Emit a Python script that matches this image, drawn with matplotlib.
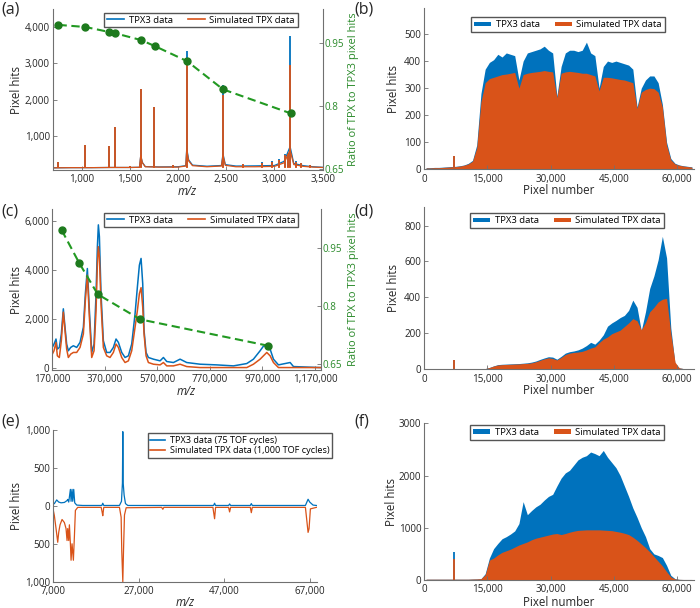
import matplotlib
matplotlib.use('Agg')
import matplotlib.pyplot as plt
from matplotlib.lines import Line2D
from matplotlib.patches import Patch
import numpy as np

plt.rcParams['font.family'] = ['Open Sans', 'DejaVu Sans']

BLUE = '#0072BD'
ORANGE = '#D95319'
GREEN_T = '#2a8a2a'
GREEN_D = '#1d7a1d'
GREEN_L = '#229922'
SPINE = '#707070'
TXT = '#262626'

# ---------------- (a) data ----------------
a_base_mz = [700, 900, 1100, 1300, 1500, 1600, 1613, 1630, 1660, 1800, 2000, 2080, 2090, 2110, 2150,
             2300, 2450, 2466, 2490, 2600, 2800, 3000, 3100, 3162, 3200, 3300, 3400, 3500]
a_base_orange = [110, 115, 115, 120, 120, 125, 450, 250, 140, 130, 130, 160, 600, 300, 170,
                 140, 160, 450, 180, 140, 140, 150, 250, 600, 200, 150, 130, 120]
a_base_blue = [110, 115, 115, 120, 120, 125, 450, 260, 145, 135, 140, 170, 650, 330, 185,
               155, 175, 500, 200, 160, 165, 175, 290, 700, 230, 170, 140, 125]
a_peak_mz = [750, 1039, 1289, 1341, 1500, 1613, 1752, 1950, 2090, 2466, 2674, 2873, 2978,
             3047, 3110, 3135, 3162, 3221, 3273, 3370]
a_peak_orange = [280, 740, 720, 1250, 170, 2280, 1800, 180, 3100, 2130, 210, 250, 270,
                 330, 470, 490, 2960, 270, 230, 180]
a_peak_blue = [280, 740, 720, 1250, 170, 2280, 1800, 190, 3350, 2400, 220, 260, 290,
               350, 500, 530, 3760, 290, 250, 200]
a_ratio_mz = [760, 1039, 1289, 1350, 1616, 1756, 2093, 2466, 3169]
a_ratio = [0.992, 0.987, 0.975, 0.972, 0.956, 0.942, 0.906, 0.839, 0.782]

# ---------------- (c) data ----------------
c_mz = [170000, 176500, 184100, 189200, 196800, 204400, 212000, 218400, 224700, 231100, 240000,
        250200, 262900, 275600, 288300, 295900, 303500, 311200, 320100, 329000, 336600, 341700,
        345400, 349300, 355500, 364400, 377100, 389800, 402500, 412700, 421600, 434300, 447000,
        459700, 472400, 485100, 494000, 501600, 508000, 514300, 519400, 527000, 535900, 555000,
        580400, 593100, 605800, 631200, 656500, 681900, 732700, 796200, 859700, 910500, 935900,
        961300, 974000, 986700, 999400, 1012100, 1031200, 1075600, 1088300, 1190000]
c_blue = [827, 965, 1172, 758, 827, 1379, 2413, 1655, 965, 690, 827,
          896, 827, 1034, 1655, 3034, 4068, 2344, 621, 965, 3034, 4964,
          5861, 5378, 3034, 1103, 621, 621, 827, 1172, 1034, 621, 414,
          483, 965, 2206, 3310, 4206, 4482, 3448, 1517, 621, 414, 345,
          276, 414, 248, 207, 345, 207, 138, 110, 69, 165, 345,
          690, 880, 900, 758, 345, 110, 207, 41, 0]
c_orange = [552, 690, 1034, 483, 414, 1103, 2275, 1517, 758, 414, 552,
            621, 621, 827, 1379, 2758, 3792, 2069, 414, 690, 2344, 4275,
            4964, 4551, 2620, 827, 483, 414, 621, 965, 827, 414, 207,
            276, 690, 1655, 2344, 3034, 3282, 2482, 1379, 483, 207, 138,
            110, 207, 69, 69, 138, 41, 0, 0, 0, 0, 138,
            345, 483, 620, 483, 207, 0, 0, 0, 0]
c_ratio_mz = [205800, 271700, 343000, 505000, 990600]
c_ratio = [0.997, 0.913, 0.831, 0.766, 0.698]

# ---------------- (e) data ----------------
e_blue_mz = [7000, 7390, 7930, 8400, 8945, 9720, 10345, 10500, 10735, 11125,
             11280, 11510, 11670, 11900, 12135, 12600, 14000, 18450, 18670, 18900,
             22560, 23030, 23250, 23340, 23430, 23650, 23960, 24500, 31900, 44500,
             44730, 44950, 48000, 48230, 48460, 53060, 53290, 53520, 65900, 66520,
             66900, 67680, 68460]
e_blue = [20, 30, 78, 50, 40, 45, 70, 85, 50, 217,
          60, 217, 60, 217, 40, 10, 5, 5, 35, 5,
          5, 60, 300, 978, 300, 140, 30, 5, 5, 5,
          35, 5, 5, 25, 5, 5, 30, 5, 5, 87,
          50, 10, 5]
e_orange_mz = [7000, 7390, 7780, 8170, 8400, 8710, 9180, 9720, 10110, 10345,
               10500, 10735, 10890, 11125, 11280, 11510, 11820, 12060, 12290, 12835,
               18300, 18515, 18670, 18900, 22560, 22950, 23100, 23340, 23500, 23730,
               24120, 32400, 32670, 32900, 44340, 44730, 44960, 48000, 48230, 48460,
               53060, 53290, 53520, 65900, 66520, 66750, 67060, 68460]
e_orange = [20, 130, 300, 480, 350, 250, 180, 220, 300, 457,
            300, 457, 250, 500, 717, 500, 717, 400, 60, 20,
            20, 80, 130, 20, 20, 150, 600, 1000, 600, 120,
            25, 20, 45, 20, 20, 170, 20, 20, 80, 20,
            20, 90, 20, 20, 350, 300, 40, 20]

# ---------------- histogram data (bins of 1000 pixels) ----------------
pix_edges = list(range(0, 65000, 1000))

b_blue = [6, 6, 7, 7, 8, 9, 10, 11, 13, 16,
          22, 33, 90, 280, 370, 395, 405, 425, 415, 430,
          425, 420, 330, 400, 430, 435, 440, 445, 455, 440,
          430, 270, 380, 430, 440, 440, 435, 440, 470, 430,
          420, 300, 380, 400, 395, 400, 395, 390, 385, 370,
          230, 300, 330, 345, 345, 320, 240, 100, 40, 22,
          16, 13, 11, 9]
b_orange = [5, 5, 6, 6, 7, 8, 9, 10, 12, 15,
            20, 30, 80, 250, 320, 335, 340, 345, 350, 352,
            355, 358, 300, 350, 355, 358, 360, 362, 365, 362,
            360, 265, 355, 360, 362, 360, 358, 355, 355, 350,
            345, 290, 340, 340, 338, 335, 332, 330, 325, 320,
            225, 285, 295, 300, 298, 285, 230, 90, 35, 20,
            15, 12, 10, 8]

d_blue = [3, 3, 3, 3, 3, 3, 3, 3, 3, 3,
          3, 3, 3, 3, 4, 10, 19, 26, 28, 29,
          30, 31, 32, 34, 36, 40, 46, 55, 63, 70,
          68, 56, 72, 90, 98, 102, 108, 118, 132, 150,
          140, 162, 192, 240, 258, 272, 288, 300, 328, 385,
          345, 215, 320, 450, 520, 610, 740, 620, 230, 30,
          8, 4, 3, 3]
d_orange = [3, 3, 3, 3, 3, 3, 3, 3, 3, 3,
            3, 3, 3, 3, 4, 10, 18, 24, 26, 27,
            28, 29, 30, 32, 33, 36, 42, 50, 58, 64,
            60, 52, 66, 82, 90, 94, 96, 100, 108, 118,
            125, 148, 168, 180, 198, 208, 218, 238, 258, 282,
            270, 220, 260, 320, 345, 375, 390, 395, 200, 40,
            8, 4, 3, 3]

f_blue = [15, 15, 15, 15, 15, 15, 15, 15, 15, 15,
          15, 18, 20, 25, 120, 420, 600, 700, 790, 830,
          880, 940, 1080, 1500, 1250, 1330, 1400, 1450, 1530, 1600,
          1640, 1800, 1950, 2050, 2100, 2200, 2300, 2350, 2380, 2450,
          2420, 2380, 2480, 2350, 2250, 2150, 2000, 1800, 1600, 1380,
          1200, 1000, 830, 600, 500, 470, 430, 280, 90, 25,
          12, 10, 10, 10]
f_orange = [15, 15, 15, 15, 15, 15, 15, 15, 15, 15,
            15, 18, 20, 25, 100, 380, 420, 480, 530, 560,
            590, 630, 670, 700, 730, 770, 800, 820, 840, 860,
            880, 890, 870, 890, 915, 935, 950, 955, 960, 960,
            960, 960, 955, 950, 945, 930, 915, 895, 870, 820,
            760, 690, 620, 540, 450, 360, 270, 160, 60, 20,
            12, 10, 10, 10]

spike_pix = 7000
b_spike = [50, 50]   # blue, orange
d_spike = [50, 50]
f_spike = [540, 400]

# ---------------- figure ----------------
fig = plt.figure(figsize=(7, 6.08), dpi=100)
TICK_FS = 7.1
LAB_FS = 8.3


def px_axes(l, t, r, b):
    return fig.add_axes([l / 700, 1 - b / 608, (r - l) / 700, (b - t) / 608])


def style(ax):
    for s in ['top', 'right']:
        ax.spines[s].set_visible(False)
    for s in ['left', 'bottom']:
        ax.spines[s].set_color(SPINE)
        ax.spines[s].set_linewidth(0.8)
    ax.tick_params(direction='in', length=3, width=0.6, color=SPINE,
                   labelsize=TICK_FS, labelcolor=TXT, pad=2)
    ax.tick_params(axis='x', pad=3.2)


def legend(ax, handles, labels, x, y, ncol=2, fs=6.8, hl=1.8, hh=0.7):
    ax.legend(handles, labels, loc='upper left', bbox_to_anchor=(x / 700, 1 - y / 608),
              bbox_transform=fig.transFigure, ncol=ncol, fontsize=fs, frameon=True,
              fancybox=False, edgecolor='#555555', framealpha=1, borderpad=0.3,
              handlelength=hl, handleheight=hh, handletextpad=0.5, columnspacing=1.6,
              labelspacing=0.15, borderaxespad=0)


def right_axis(ax, ylim):
    ax2 = ax.twinx()
    for s in ['top', 'left', 'bottom']:
        ax2.spines[s].set_visible(False)
    ax2.spines['right'].set_color(SPINE)
    ax2.spines['right'].set_linewidth(0.8)
    ax2.set_ylim(*ylim)
    ax2.set_yticks([0.65, 0.8, 0.95])
    ax2.set_yticklabels(['0.65', '0.8', '0.95'])
    ax2.tick_params(direction='in', length=3, width=0.6, color=SPINE,
                    labelsize=TICK_FS, labelcolor=GREEN_T, pad=1.5)
    return ax2


def comma(v):
    return f'{int(v):,}'


def xlabel(ax, text, ycoord, italic=False):
    ax.set_xlabel(text, fontsize=LAB_FS, color=TXT, style='italic' if italic else 'normal')
    ax.xaxis.set_label_coords(0.5, ycoord)


def ylabel(ax, xcoord):
    ax.set_ylabel('Pixel hits', fontsize=LAB_FS, color=TXT)
    ax.yaxis.set_label_coords(xcoord, 0.5)


# ---- (a) ----
axa = px_axes(52.7, 9.3, 322.7, 170)
style(axa)
axa.plot(a_base_mz, a_base_blue, color=BLUE, lw=0.9)
axa.vlines(a_peak_mz, [120] * len(a_peak_mz), a_peak_blue, color=BLUE, lw=1.3)
axa.plot(a_base_mz, a_base_orange, color=ORANGE, lw=0.9)
axa.vlines(a_peak_mz, [115] * len(a_peak_mz), a_peak_orange, color=ORANGE, lw=1.3)
axa.set_xlim(700, 3500)
axa.set_ylim(50, 4500)
ax_ticks = [1000, 1500, 2000, 2500, 3000, 3500]
axa.set_xticks(ax_ticks)
axa.set_xticklabels([comma(v) for v in ax_ticks])
axa.set_yticks([1000, 2000, 3000, 4000])
axa.set_yticklabels([comma(v) for v in [1000, 2000, 3000, 4000]])
ylabel(axa, -0.11)
xlabel(axa, 'm/z', -0.093, italic=True)
axa2 = right_axis(axa, (0.6476, 1.029))
axa2.plot(a_ratio_mz, a_ratio, color=GREEN_L, lw=1.5, ls=(0, (4, 2.2)))
axa2.plot(a_ratio_mz, a_ratio, 'o', color=GREEN_D, ms=5)
axa2.set_ylabel('Ratio of TPX to TPX3 pixel hits', fontsize=8, color=GREEN_T)
axa2.yaxis.set_label_coords(1.093, 0.5)
legend(axa2, [Line2D([], [], color=BLUE, lw=1.2), Line2D([], [], color=ORANGE, lw=1.2)],
       ['TPX3 data', 'Simulated TPX data'], 104, 12.7)

# ---- (c) ----
axc = px_axes(52.3, 209.3, 320.7, 370)
style(axc)
axc.plot(c_mz, c_blue, color=BLUE, lw=1.1)
axc.plot(c_mz, c_orange, color=ORANGE, lw=1.1)
axc.set_xlim(170000, 1192000)
axc.set_ylim(-100, 6500)
cx = [170000, 370000, 570000, 770000, 970000, 1170000]
axc.set_xticks(cx)
axc.set_xticklabels([comma(v) for v in cx])
axc.set_yticks([0, 2000, 4000, 6000])
axc.set_yticklabels([comma(v) for v in [0, 2000, 4000, 6000]])
ylabel(axc, -0.11)
xlabel(axc, 'm/z', -0.093, italic=True)
axc2 = right_axis(axc, (0.635, 1.051))
axc2.plot(c_ratio_mz, c_ratio, color=GREEN_L, lw=1.5, ls=(0, (4, 2.2)))
axc2.plot(c_ratio_mz, c_ratio, 'o', color=GREEN_D, ms=5)
axc2.set_ylabel('Ratio of TPX to TPX3 pixel hits', fontsize=8, color=GREEN_T)
axc2.yaxis.set_label_coords(1.1, 0.5)
legend(axc2, [Line2D([], [], color=BLUE, lw=1.2), Line2D([], [], color=ORANGE, lw=1.2)],
       ['TPX3 data', 'Simulated TPX data'], 104.3, 212.7)

# ---- (e) ----
axe = px_axes(52.7, 430, 317, 581.7)
style(axe)
axe.plot(e_orange_mz, [-v for v in e_orange], color=ORANGE, lw=0.9)
axe.plot(e_blue_mz, e_blue, color=BLUE, lw=0.9)
axe.set_xlim(7000, 68600)
axe.set_ylim(-1000, 1000)
ex = [7000, 27000, 47000, 67000]
axe.set_xticks(ex)
axe.set_xticklabels([comma(v) for v in ex])
axe.set_yticks([-1000, -500, 0, 500, 1000])
axe.set_yticklabels(['1,000', '500', '0', '500', '1,000'])
ylabel(axe, -0.112)
xlabel(axe, 'm/z', -0.097, italic=True)
legend(axe, [Line2D([], [], color=BLUE, lw=1.2), Line2D([], [], color=ORANGE, lw=1.2)],
       ['TPX3 data (75 TOF cycles)', 'Simulated TPX data (1,000 TOF cycles)'],
       147.7, 433.3, ncol=1, fs=6.6, hl=1.6)


# ---- histograms ----
def hist_panel(t, b, blue, orange, spike, ylim, yt, ytl, lx, ly, ylabx, xlaby):
    ax = px_axes(424, t, 694, b)
    style(ax)
    centers = [e + 500 for e in pix_edges[:-1]]
    ax.fill_between(centers, 0, blue, color=BLUE, lw=0)
    ax.fill_between(centers, 0, orange, color=ORANGE, lw=0)
    ax.vlines([spike_pix], 0, [spike[0]], color=BLUE, lw=1.3)
    ax.vlines([spike_pix], 0, [spike[1]], color=ORANGE, lw=1.3)
    ax.set_xlim(0, 64000)
    ax.set_ylim(*ylim)
    px = [0, 15000, 30000, 45000, 60000]
    ax.set_xticks(px)
    ax.set_xticklabels([comma(v) for v in px])
    ax.set_yticks(yt)
    ax.set_yticklabels(ytl)
    ylabel(ax, ylabx)
    xlabel(ax, 'Pixel number', xlaby)
    legend(ax, [Patch(facecolor=BLUE, lw=0), Patch(facecolor=ORANGE, lw=0)],
           ['TPX3 data', 'Simulated TPX data'], lx, ly, hh=0.35)
    return ax


hist_panel(8.3, 169.3, b_blue, b_orange, b_spike, (0, 595),
           [0, 100, 200, 300, 400, 500], ['0', '100', '200', '300', '400', '500'],
           471, 17.3, -0.09, -0.094)
hist_panel(206.7, 369.3, d_blue, d_orange, d_spike, (0, 905),
           [0, 200, 400, 600, 800], ['0', '200', '400', '600', '800'],
           470, 213.3, -0.09, -0.093)
hist_panel(423.3, 580, f_blue, f_orange, f_spike, (0, 3000),
           [0, 1000, 2000, 3000], ['0', '1000', '2000', '3000'],
           470, 425, -0.095, -0.105)

# ---- panel letters ----
for lab, x, y in [('(a)', 1, 10), ('(b)', 354, 10), ('(c)', 1, 211), ('(d)', 354, 211),
                  ('(e)', 1, 421), ('(f)', 354, 421)]:
    fig.text(x / 700, 1 - y / 608, lab, fontsize=11.5, color=TXT, ha='left', va='center')

fig.savefig('out.png', dpi=100)
